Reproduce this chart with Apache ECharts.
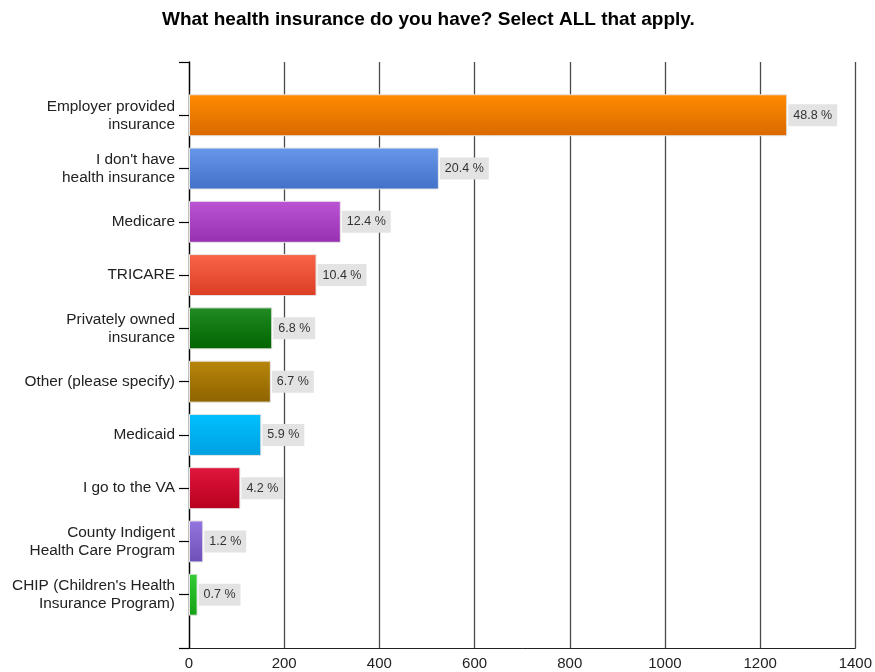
<!DOCTYPE html>
<html>
<head>
<meta charset="utf-8">
<script src="https://cdn.jsdelivr.net/npm/echarts@6/dist/echarts.min.js"></script>
<style>
html,body{margin:0;padding:0;background:#fff;}
#chart{width:875px;height:672px;}
</style>
</head>
<body>
<div id="chart"></div>
<script>
// Data
var categories = [
  'Employer provided\ninsurance',
  "I don't have\nhealth insurance",
  'Medicare',
  'TRICARE',
  'Privately owned\ninsurance',
  'Other (please specify)',
  'Medicaid',
  'I go to the VA',
  'County Indigent\nHealth Care Program',
  "CHIP (Children's Health\nInsurance Program)"
];
var counts = [1257, 525, 319, 268, 175, 172, 152, 108, 30, 18];
var percentLabels = ['48.8 %', '20.4 %', '12.4 %', '10.4 %', '6.8 %', '6.7 %', '5.9 %', '4.2 %', '1.2 %', '0.7 %'];
var xTicks = [0, 200, 400, 600, 800, 1000, 1200, 1400];
var barColors = [
  ['#ff8c00', '#d96800'],
  ['#6797ea', '#4370c8'],
  ['#bb55d6', '#962fb0'],
  ['#fa6448', '#da3e24'],
  ['#228b22', '#006400'],
  ['#b8860b', '#8e6300'],
  ['#00c0ff', '#00a0e0'],
  ['#e0163e', '#b8001e'],
  ['#9575df', '#6e4fb8'],
  ['#32cd32', '#14a014']
];

// Axis with empty end slots so ticks appear at the plot boundaries
var yData = [''].concat(categories).concat(['']);
var seriesData = ['-'];
for (var i = 0; i < counts.length; i++) {
  seriesData.push({
    value: counts[i],
    itemStyle: {
      color: new echarts.graphic.LinearGradient(0, 0, 0, 1, [
        {offset: 0, color: barColors[i][0]},
        {offset: 1, color: barColors[i][1]}
      ])
    }
  });
}
seriesData.push('-');

var chart = echarts.init(document.getElementById('chart'));
chart.setOption({
  animation: false,
  backgroundColor: '#ffffff',
  title: {
    text: 'What health insurance do you have? Select ALL that apply.',
    left: 157,
    top: 5,
    textStyle: {
      fontFamily: 'Liberation Sans, Arial, sans-serif',
      fontWeight: 'bold',
      fontSize: 19,
      color: '#000'
    }
  },
  grid: {left: 189, right: 19, top: 62, bottom: 24, containLabel: false},
  xAxis: {
    type: 'value',
    min: xTicks[0],
    max: xTicks[xTicks.length - 1],
    interval: 200,
    axisLine: {show: true, lineStyle: {color: '#222', width: 1}},
    axisTick: {show: false},
    splitLine: {show: true, lineStyle: {color: '#4a4a4a', width: 1.3}},
    axisLabel: {
      fontFamily: 'Liberation Sans, Arial, sans-serif',
      fontSize: 15,
      color: '#222',
      margin: 8,
      formatter: function (v) { return String(v); }
    }
  },
  yAxis: {
    type: 'category',
    inverse: true,
    boundaryGap: false,
    data: yData,
    axisLine: {show: true, lineStyle: {color: '#000', width: 1.3}},
    axisTick: {show: true, length: 10, lineStyle: {color: '#000', width: 1.2}},
    splitLine: {show: false},
    axisLabel: {
      fontFamily: 'Liberation Sans, Arial, sans-serif',
      fontSize: 15.4,
      lineHeight: 18,
      color: '#222',
      margin: 14,
      align: 'right'
    }
  },
  series: [{
    type: 'bar',
    data: seriesData,
    barWidth: 42,
    itemStyle: {borderColor: '#e6e6e6', borderWidth: 1},
    label: {
      show: true,
      position: 'right',
      distance: 1,
      formatter: function (p) { return percentLabels[p.dataIndex - 1]; },
      fontFamily: 'Liberation Sans, Arial, sans-serif',
      fontSize: 12.5,
      color: '#333',
      backgroundColor: '#e3e3e3',
      padding: [5, 5, 4, 5]
    }
  }]
});
</script>
</body>
</html>
